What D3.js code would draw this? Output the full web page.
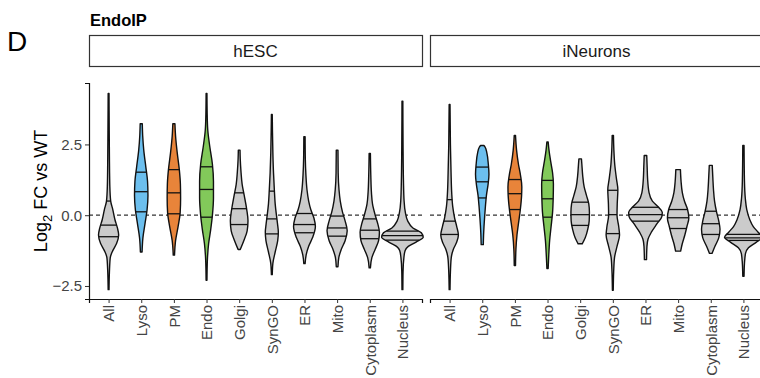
<!DOCTYPE html>
<html>
<head>
<meta charset="utf-8">
<script src="https://cdn.jsdelivr.net/npm/d3@7"></script>
<style>
  body { margin: 0; background: #fff; }
  svg { display: block; font-family: "Liberation Sans", Arial, sans-serif; }
</style>
</head>
<body>
<svg width="760" height="378"></svg>
<script>
var categories = ["All", "Lyso", "PM", "Endo", "Golgi", "SynGO", "ER", "Mito", "Cytoplasm", "Nucleus"];
var facets = ["hESC", "iNeurons"];
var yTicks = [-2.5, 0, 2.5];

// quartiles [25%, 50%, 75%] per category
var hescQuartiles = [
  [-0.76, -0.35, 0.5], [0.12, 0.83, 1.52], [0.05, 0.79, 1.61], [-0.07, 0.91, 1.71], [-0.33, 0.23, 0.79],
  [-0.66, -0.13, 0.85], [-0.62, -0.33, 0.06], [-0.74, -0.45, -0.03], [-0.83, -0.53, -0.13], [-0.88, -0.72, -0.56]
];
var neuronQuartiles = [
  [-0.68, -0.21, 0.55], [0.61, 1.18, 1.7], [0.2, 0.76, 1.26], [-0.07, 0.58, 1.23], [-0.36, 0.02, 0.46],
  [-0.65, 0.02, 0.88], [-0.21, 0.02, 0.28], [-0.47, -0.09, 0.2], [-0.68, -0.3, 0.14], [-0.89, -0.8, -0.68]
];

// violin outlines: [log2 FC, relative density]
var hescProfiles = [
  [[-2.63,0.02],[-2.0,0.04],[-1.5,0.08],[-1.25,0.2],[-1.0,0.38],[-0.7,0.48],[-0.45,0.42],[-0.15,0.3],[0.2,0.2],[0.5,0.1],[1.0,0.06],[2.0,0.04],[3.0,0.03],[4.3,0.02]],
  [[-1.3,0.04],[-0.8,0.08],[-0.3,0.18],[0.2,0.28],[0.7,0.32],[1.2,0.3],[1.7,0.22],[2.3,0.12],[2.8,0.07],[3.23,0.05]],
  [[-1.41,0.03],[-0.9,0.08],[-0.4,0.2],[0.1,0.3],[0.6,0.32],[1.1,0.31],[1.6,0.26],[2.2,0.16],[2.8,0.08],[3.23,0.05]],
  [[-2.3,0.02],[-1.6,0.04],[-1.0,0.1],[-0.5,0.2],[0.0,0.28],[0.6,0.33],[1.2,0.33],[1.8,0.28],[2.4,0.16],[3.0,0.06],[3.6,0.03],[4.3,0.02]],
  [[-1.21,0.05],[-0.9,0.22],[-0.55,0.38],[-0.2,0.42],[0.2,0.36],[0.7,0.24],[1.1,0.14],[1.5,0.09],[2.0,0.05],[2.3,0.04]],
  [[-2.1,0.02],[-1.7,0.05],[-1.3,0.16],[-0.9,0.28],[-0.6,0.31],[-0.3,0.27],[0.0,0.22],[0.4,0.16],[0.9,0.12],[1.5,0.08],[2.2,0.05],[3.0,0.03],[3.56,0.02]],
  [[-1.71,0.03],[-1.4,0.08],[-1.1,0.2],[-0.8,0.38],[-0.4,0.52],[-0.1,0.45],[0.2,0.3],[0.5,0.2],[0.9,0.12],[1.4,0.07],[2.0,0.04],[2.77,0.03]],
  [[-1.82,0.04],[-1.5,0.08],[-1.2,0.2],[-0.9,0.38],[-0.55,0.48],[-0.2,0.38],[0.1,0.26],[0.5,0.15],[0.9,0.09],[1.5,0.05],[2.3,0.04]],
  [[-1.86,0.03],[-1.5,0.1],[-1.2,0.26],[-0.9,0.42],[-0.6,0.46],[-0.3,0.38],[0.0,0.26],[0.4,0.13],[0.8,0.08],[1.4,0.05],[2.18,0.03]],
  [[-2.63,0.02],[-2.0,0.03],[-1.5,0.07],[-1.25,0.13],[-1.1,0.28],[-0.95,0.65],[-0.78,0.99],[-0.62,0.9],[-0.45,0.5],[-0.2,0.25],[0.1,0.14],[0.5,0.08],[1.2,0.05],[2.5,0.03],[4.03,0.02]]
];
var neuronProfiles = [
  [[-2.63,0.02],[-2.0,0.04],[-1.5,0.08],[-1.2,0.18],[-0.95,0.34],[-0.7,0.42],[-0.4,0.34],[-0.1,0.24],[0.3,0.15],[0.8,0.1],[1.5,0.07],[2.5,0.04],[3.91,0.02]],
  [[-1.04,0.05],[-0.6,0.07],[-0.1,0.11],[0.3,0.15],[0.7,0.2],[1.1,0.28],[1.45,0.32],[1.8,0.29],[2.2,0.22],[2.4,0.14],[2.46,0.08]],
  [[-1.78,0.03],[-1.2,0.05],[-0.7,0.1],[-0.3,0.17],[0.2,0.26],[0.7,0.32],[1.0,0.33],[1.4,0.27],[1.8,0.17],[2.3,0.08],[2.82,0.03]],
  [[-1.88,0.03],[-1.4,0.06],[-0.9,0.1],[-0.4,0.17],[0.1,0.24],[0.6,0.27],[1.1,0.28],[1.5,0.24],[1.9,0.15],[2.3,0.07],[2.59,0.03]],
  [[-1.01,0.1],[-0.8,0.24],[-0.5,0.36],[-0.2,0.43],[0.1,0.44],[0.4,0.41],[0.7,0.3],[1.0,0.19],[1.4,0.12],[1.8,0.08],[1.99,0.06]],
  [[-2.65,0.02],[-2.0,0.04],[-1.5,0.08],[-1.1,0.2],[-0.7,0.32],[-0.4,0.28],[0.0,0.2],[0.4,0.21],[0.9,0.24],[1.3,0.17],[1.8,0.09],[2.3,0.05],[2.82,0.03]],
  [[-1.57,0.05],[-1.1,0.07],[-0.85,0.12],[-0.6,0.28],[-0.3,0.55],[-0.05,0.78],[0.1,0.8],[0.3,0.6],[0.5,0.33],[0.8,0.17],[1.3,0.1],[1.7,0.08],[2.11,0.06]],
  [[-1.27,0.12],[-1.0,0.2],[-0.7,0.32],[-0.4,0.42],[-0.1,0.51],[0.2,0.45],[0.5,0.3],[0.8,0.2],[1.2,0.14],[1.61,0.11]],
  [[-1.35,0.06],[-1.1,0.2],[-0.8,0.38],[-0.5,0.44],[-0.2,0.38],[0.1,0.28],[0.5,0.18],[0.9,0.13],[1.3,0.1],[1.76,0.07]],
  [[-2.16,0.03],[-1.7,0.05],[-1.35,0.1],[-1.15,0.24],[-0.95,0.62],[-0.78,0.9],[-0.6,0.7],[-0.4,0.47],[-0.15,0.3],[0.2,0.16],[0.6,0.09],[1.2,0.05],[2.46,0.03]]
];

var fills = { Lyso: "#6cbfee", PM: "#e8843a", Endo: "#82c95a" };
var grey = "#cbcbcb";

var svg = d3.select("svg");

var panelTop = 83, panelBottom = 299;
var panels = [[89, 422], [430, 763]];

var y = d3.scaleLinear()
    .domain([-2.96, 4.67])
    .range([panelBottom, panelTop]);

var w = d3.scaleLinear().domain([0, 1]).range([0, 21]);

// panel letter + title
svg.append("text")
    .attr("x", 7).attr("y", 51)
    .style("font-size", "28px")
    .text("D");
svg.append("text")
    .attr("x", 90).attr("y", 26)
    .style("font-size", "16.5px").style("font-weight", "bold")
    .text("EndoIP");

// y axis title
svg.append("text")
    .attr("transform", "translate(47,191) rotate(-90)")
    .attr("text-anchor", "middle")
    .style("font-size", "18px")
    .call(function(t) {
      t.append("tspan").text("Log");
      t.append("tspan").attr("dy", 5).style("font-size", "13px").text("2");
      t.append("tspan").attr("dy", -5).text(" FC vs WT");
    });

var facetData = [
  { name: facets[0], quart: hescQuartiles, prof: hescProfiles },
  { name: facets[1], quart: neuronQuartiles, prof: neuronProfiles }
];

facetData.forEach(function(f, i) {
  var x0 = panels[i][0], x1 = panels[i][1];
  var g = svg.append("g");

  var x = d3.scalePoint()
      .domain(categories)
      .range([x0, x1])
      .padding(0.6);

  // strip
  g.append("rect")
      .attr("x", x0 + 0.5).attr("y", 35.5)
      .attr("width", x1 - x0).attr("height", 31)
      .attr("fill", "#fff").attr("stroke", "#333").attr("stroke-width", 1.2);
  g.append("text")
      .attr("x", (x0 + x1) / 2).attr("y", 57)
      .attr("text-anchor", "middle")
      .style("font-size", "17px").attr("fill", "#1a1a1a")
      .text(f.name);

  // reference line at 0
  g.append("line")
      .attr("x1", x0).attr("x2", x1)
      .attr("y1", y(0)).attr("y2", y(0))
      .attr("stroke", "#333").attr("stroke-width", 1.2)
      .attr("stroke-dasharray", "4,3");

  categories.forEach(function(c, j) {
    var cx = x(c);
    var prof = f.prof[j];
    var area = d3.area()
        .curve(d3.curveMonotoneY)
        .y(function(d) { return y(d[0]); })
        .x0(function(d) { return cx - w(d[1]); })
        .x1(function(d) { return cx + w(d[1]); });

    g.append("path")
        .datum(prof)
        .attr("d", area)
        .attr("fill", fills[c] || grey)
        .attr("stroke", "#111")
        .attr("stroke-width", 1.4)
        .attr("stroke-linejoin", "round");

    var dens = d3.scaleLinear()
        .domain(prof.map(function(p) { return p[0]; }))
        .range(prof.map(function(p) { return p[1]; }));

    g.selectAll(null)
        .data(f.quart[j])
        .enter().append("line")
        .attr("x1", function(q) { return cx - w(dens(q)); })
        .attr("x2", function(q) { return cx + w(dens(q)); })
        .attr("y1", function(q) { return y(q); })
        .attr("y2", function(q) { return y(q); })
        .attr("stroke", "#111")
        .attr("stroke-width", 1.3);
  });

  // x axis
  var xa = g.append("g")
      .attr("transform", "translate(0," + panelBottom + ")")
      .call(d3.axisBottom(x).tickSizeOuter(0).tickSize(4));
  xa.select(".domain").attr("stroke", "#111").attr("stroke-width", 1.2);
  xa.selectAll(".tick line").attr("stroke", "#333");
  xa.selectAll("text")
      .attr("transform", "rotate(-90)")
      .attr("text-anchor", "end")
      .attr("x", -6).attr("y", 0).attr("dy", "0.35em")
      .style("font-size", "15px").style("font-family", "Liberation Sans, Arial, sans-serif")
      .attr("fill", "#444");

  if (i === 0) {
    var ya = g.append("g")
        .attr("transform", "translate(" + x0 + ",0)")
        .call(d3.axisLeft(y).tickValues(yTicks).tickFormat(d3.format(".1f")).tickSizeOuter(0).tickSize(4));
    ya.select(".domain").attr("stroke", "#111").attr("stroke-width", 1.2);
    ya.selectAll(".tick line").attr("stroke", "#333");
    ya.selectAll("text")
        .attr("x", -7)
        .style("font-size", "15px").style("font-family", "Liberation Sans, Arial, sans-serif")
        .attr("fill", "#444");
  }
});
</script>
</body>
</html>
